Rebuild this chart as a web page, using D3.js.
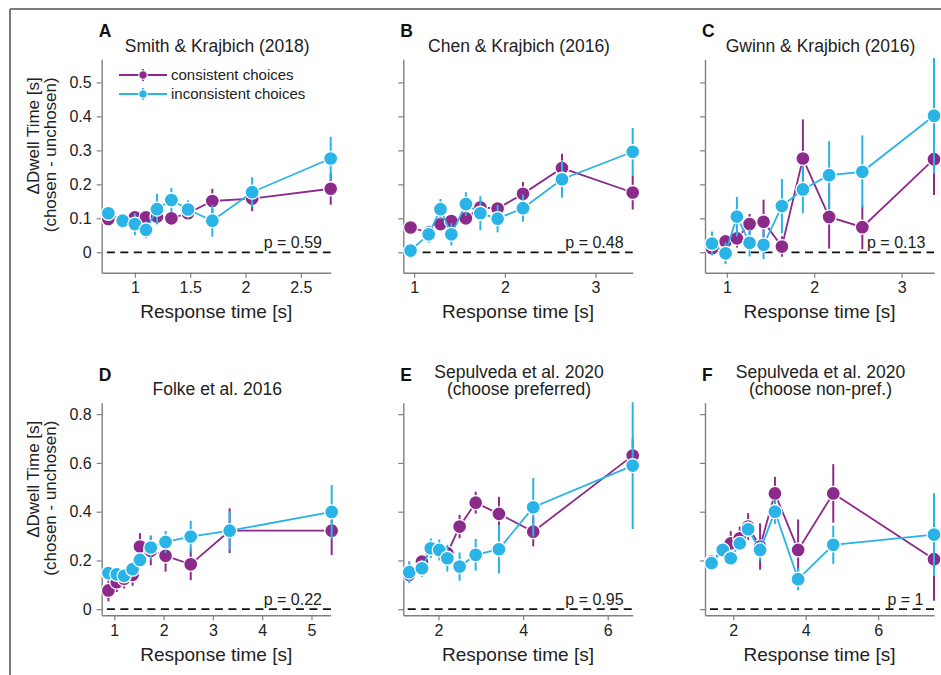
<!DOCTYPE html>
<html>
<head>
<meta charset="utf-8">
<script src="https://cdn.jsdelivr.net/npm/d3@7"></script>
<style>
  html, body { margin: 0; padding: 0; background: #fff; }
  svg { display: block; font-family: "Liberation Sans", Arial, Helvetica, sans-serif; }
</style>
</head>
<body>
<svg id="chart" width="941" height="675"></svg>
<script>
// Binned response times [s] and mean dwell-time advantage (chosen - unchosen) [s] with SEM
const rtA = [0.76, 0.89, 1.00, 1.10, 1.20, 1.33, 1.48, 1.70, 2.06, 2.77];
const consA = [0.098, 0.095, 0.103, 0.103, 0.105, 0.100, 0.115, 0.151, 0.158, 0.187];
const consErrA = [0.012, 0.012, 0.015, 0.015, 0.015, 0.016, 0.015, 0.036, 0.037, 0.047];
const inconsA = [0.115, 0.093, 0.083, 0.066, 0.127, 0.154, 0.126, 0.093, 0.177, 0.276];
const inconsErrA = [0.020, 0.020, 0.032, 0.025, 0.045, 0.035, 0.027, 0.047, 0.044, 0.064];

const rtB = [0.96, 1.16, 1.29, 1.41, 1.57, 1.73, 1.92, 2.20, 2.63, 3.41];
const consB = [0.073, 0.058, 0.083, 0.092, 0.100, 0.132, 0.129, 0.172, 0.248, 0.176];
const consErrB = [0.015, 0.015, 0.018, 0.018, 0.020, 0.022, 0.022, 0.035, 0.042, 0.050];
const inconsB = [0.005, 0.053, 0.127, 0.053, 0.142, 0.115, 0.099, 0.130, 0.215, 0.296];
const inconsErrB = [0.020, 0.025, 0.030, 0.033, 0.035, 0.050, 0.040, 0.040, 0.054, 0.070];

const rtC = [0.83, 0.985, 1.115, 1.26, 1.42, 1.63, 1.87, 2.17, 2.55, 3.37];
const consC = [0.012, 0.032, 0.041, 0.083, 0.090, 0.017, 0.276, 0.104, 0.074, 0.274];
const consErrC = [0.015, 0.020, 0.027, 0.030, 0.065, 0.030, 0.115, 0.093, 0.065, 0.105];
const inconsC = [0.026, -0.003, 0.105, 0.028, 0.022, 0.136, 0.185, 0.227, 0.237, 0.402];
const inconsErrC = [0.035, 0.032, 0.058, 0.040, 0.042, 0.080, 0.070, 0.100, 0.107, 0.170];

const rtD = [0.88, 1.05, 1.20, 1.37, 1.52, 1.74, 2.04, 2.55, 3.34, 5.41];
const consD = [0.077, 0.111, 0.125, 0.141, 0.257, 0.240, 0.219, 0.184, 0.322, 0.322];
const consErrD = [0.045, 0.040, 0.040, 0.045, 0.055, 0.060, 0.065, 0.065, 0.092, 0.100];
const inconsD = [0.148, 0.143, 0.137, 0.164, 0.202, 0.253, 0.276, 0.298, 0.322, 0.399];
const inconsErrD = [0.020, 0.020, 0.020, 0.025, 0.030, 0.050, 0.045, 0.065, 0.080, 0.110];

const rtE = [1.31, 1.61, 1.82, 2.02, 2.21, 2.50, 2.88, 3.43, 4.24, 6.59];
const consE = [0.141, 0.195, 0.250, 0.240, 0.230, 0.339, 0.437, 0.391, 0.318, 0.630];
const consErrE = [0.020, 0.025, 0.030, 0.030, 0.030, 0.048, 0.045, 0.070, 0.060, 0.070];
const inconsE = [0.152, 0.168, 0.250, 0.243, 0.209, 0.175, 0.223, 0.246, 0.418, 0.589];
const inconsErrE = [0.045, 0.035, 0.040, 0.043, 0.055, 0.058, 0.065, 0.100, 0.120, 0.260];

const rtF = [1.40, 1.71, 1.93, 2.18, 2.41, 2.74, 3.15, 3.79, 4.76, 7.54];
const consF = [0.195, 0.246, 0.270, 0.291, 0.339, 0.257, 0.475, 0.243, 0.475, 0.205];
const consErrF = [0.030, 0.030, 0.050, 0.048, 0.055, 0.095, 0.068, 0.125, 0.120, 0.170];
const inconsF = [0.189, 0.243, 0.209, 0.270, 0.328, 0.243, 0.400, 0.123, 0.264, 0.306];
const inconsErrF = [0.025, 0.025, 0.025, 0.030, 0.035, 0.045, 0.050, 0.045, 0.078, 0.170];

const pValues = ["0.59", "0.48", "0.13", "0.22", "0.95", "1"];
const panelLetters = ["A", "B", "C", "D", "E", "F"];
const panelTitles = [
  ["Smith & Krajbich (2018)"],
  ["Chen & Krajbich (2016)"],
  ["Gwinn & Krajbich (2016)"],
  ["Folke et al. 2016"],
  ["Sepulveda et al. 2020", "(choose preferred)"],
  ["Sepulveda et al. 2020", "(choose non-pref.)"]
];
const xTicksA = [1, 1.5, 2, 2.5];
const xTicksB = [1, 2, 3];
const xTicksC = [1, 2, 3];
const xTicksD = [1, 2, 3, 4, 5];
const xTicksE = [2, 4, 6];
const xTicksF = [2, 4, 6];
const yTicksTop = [0, 0.1, 0.2, 0.3, 0.4, 0.5];
const yTicksBottom = [0, 0.2, 0.4, 0.6, 0.8];
const seriesNames = ["consistent choices", "inconsistent choices"];

const COL_CONS = "#8c2a8c";
const COL_INCONS = "#29b3e6";
const AXIS_COL = "#808080";
const TEXT_COL = "#222";

// Panel geometry
const colLeft = [101.7, 403.3, 705];
const colRight = [330.7, 632.7, 934];
const rowTop = [59.3, 402.7];
const rowBottom = [272.7, 615.3];
const yDomains = [[-0.06, 0.568], [-0.025, 0.847]];
const xDomains = [[0.7, 2.77], [0.88, 3.41], [0.75, 3.37], [0.744, 5.39], [1.17, 6.59], [1.22, 7.54]];

const panels = [
  { rt: rtA, cons: consA, consErr: consErrA, incons: inconsA, inconsErr: inconsErrA, xt: xTicksA },
  { rt: rtB, cons: consB, consErr: consErrB, incons: inconsB, inconsErr: inconsErrB, xt: xTicksB },
  { rt: rtC, cons: consC, consErr: consErrC, incons: inconsC, inconsErr: inconsErrC, xt: xTicksC },
  { rt: rtD, cons: consD, consErr: consErrD, incons: inconsD, inconsErr: inconsErrD, xt: xTicksD },
  { rt: rtE, cons: consE, consErr: consErrE, incons: inconsE, inconsErr: inconsErrE, xt: xTicksE },
  { rt: rtF, cons: consF, consErr: consErrF, incons: inconsF, inconsErr: inconsErrF, xt: xTicksF }
];

const svg = d3.select("#chart");

// outer frame (top and left rules)
svg.append("line").attr("x1", 10).attr("y1", 9).attr("x2", 941).attr("y2", 9)
  .attr("stroke", "#7a7a7a").attr("stroke-width", 2);
svg.append("line").attr("x1", 10).attr("y1", 9).attr("x2", 10).attr("y2", 675)
  .attr("stroke", "#7a7a7a").attr("stroke-width", 2);

const fmtTick = d => (d === 0 ? "0" : String(d));

panels.forEach((p, i) => {
  const col = i % 3, row = Math.floor(i / 3);
  const L = colLeft[col], R = colRight[col], T = rowTop[row], B = rowBottom[row];
  const x = d3.scaleLinear().domain(xDomains[i]).range([L, R]);
  const y = d3.scaleLinear().domain(yDomains[row]).range([B, T]);
  const g = svg.append("g");

  // axes
  const xAxis = d3.axisBottom(x).tickValues(p.xt).tickFormat(fmtTick).tickSize(5).tickSizeOuter(0).tickPadding(4);
  const yAxis = d3.axisLeft(y).tickValues(row === 0 ? yTicksTop : yTicksBottom)
    .tickFormat(col === 0 ? fmtTick : "").tickSize(5).tickSizeOuter(0).tickPadding(5);
  const gx = g.append("g").attr("transform", `translate(0,${B})`).call(xAxis);
  const gy = g.append("g").attr("transform", `translate(${L},0)`).call(yAxis);
  [gx, gy].forEach(a => {
    a.select(".domain").attr("stroke", AXIS_COL).attr("stroke-width", 1.4);
    a.selectAll(".tick line").attr("stroke", AXIS_COL).attr("stroke-width", 1.2);
    a.selectAll(".tick text").attr("fill", TEXT_COL).style("font-size", "16px")
      .style("font-family", "'Liberation Sans', Arial, sans-serif");
  });

  // x axis label
  g.append("text").attr("x", (L + R) / 2).attr("y", B + 45.5).attr("text-anchor", "middle")
    .attr("fill", TEXT_COL).style("font-size", "19px").text("Response time [s]");

  // y axis label (left column only)
  if (col === 0) {
    const top = T + 18;
    g.append("text").attr("transform", `translate(39,${top}) rotate(-90)`).attr("text-anchor", "end")
      .attr("fill", TEXT_COL).style("font-size", "17px").text("\u0394Dwell Time [s]");
    g.append("text").attr("transform", `translate(56,${top}) rotate(-90)`).attr("text-anchor", "end")
      .attr("fill", TEXT_COL).style("font-size", "17px").text("(chosen - unchosen)");
  }

  // panel letter and title (multi-line titles share one text element)
  const letterY = row === 0 ? 36.5 : 381;
  g.append("text").attr("x", L - 3).attr("y", letterY).attr("fill", "#111")
    .style("font-size", "17.5px").style("font-weight", "bold").text(panelLetters[i]);
  const titles = panelTitles[i];
  const titleY = row === 0 ? 51.5 : (titles.length === 1 ? 395 : 378.3);
  const cx = (L + R) / 2 + 1;
  const title = g.append("text").attr("x", cx).attr("y", titleY).attr("text-anchor", "middle")
    .attr("fill", TEXT_COL).style("font-size", "17.5px");
  titles.forEach((t, k) => {
    title.append("tspan").attr("x", cx).attr("dy", k === 0 ? 0 : 16.7).text(t);
  });

  // zero reference line
  g.append("line").attr("x1", x(d3.min(p.rt)) - 1.5).attr("x2", x(d3.max(p.rt)))
    .attr("y1", y(0)).attr("y2", y(0))
    .attr("stroke", "#111").attr("stroke-width", 1.8).attr("stroke-dasharray", "8,5.5");

  // p-value
  const pText = g.append("text").attr("y", y(0) - 4.5).attr("fill", TEXT_COL)
    .style("font-size", "16px").text("p = " + pValues[i]);
  if (pValues[i].length > 1) pText.attr("x", L + 162).attr("text-anchor", "start");
  else pText.attr("x", R - 10.5).attr("text-anchor", "end");

  // series: consistent first, inconsistent drawn on top
  const series = [
    { v: p.cons, e: p.consErr, c: COL_CONS },
    { v: p.incons, e: p.inconsErr, c: COL_INCONS }
  ];
  series.forEach(s => {
    const pts = p.rt.map((t, k) => ({ t, v: s.v[k], e: s.e[k] }));
    const sg = g.append("g");
    sg.append("path").datum(pts)
      .attr("d", d3.line().x(d => x(d.t)).y(d => y(d.v)))
      .attr("fill", "none").attr("stroke", s.c).attr("stroke-width", 1.8);
    sg.selectAll("line.err").data(pts).join("line").attr("class", "err")
      .attr("x1", d => x(d.t)).attr("x2", d => x(d.t))
      .attr("y1", d => y(d.v - d.e)).attr("y2", d => y(d.v + d.e))
      .attr("stroke", s.c).attr("stroke-width", 2);
    sg.selectAll("circle").data(pts).join("circle")
      .attr("cx", d => x(d.t)).attr("cy", d => y(d.v)).attr("r", 7)
      .attr("fill", s.c).attr("stroke", "#fff").attr("stroke-width", 1.3);
  });

  // legend (first panel)
  if (i === 0) {
    const lg = g.append("g");
    [COL_CONS, COL_INCONS].forEach((c, k) => {
      const ly = 75 + k * 19;
      lg.append("line").attr("x1", 119).attr("x2", 167).attr("y1", ly).attr("y2", ly)
        .attr("stroke", c).attr("stroke-width", 1.8);
      lg.append("line").attr("x1", 143).attr("x2", 143).attr("y1", ly - 6).attr("y2", ly + 6)
        .attr("stroke", c).attr("stroke-width", 1.8);
      lg.append("circle").attr("cx", 143).attr("cy", ly).attr("r", 4.2)
        .attr("fill", c).attr("stroke", "#fff").attr("stroke-width", 1);
      lg.append("text").attr("x", 171).attr("y", ly + 5).attr("fill", TEXT_COL)
        .style("font-size", "15px").text(seriesNames[k]);
    });
  }
});
</script>
</body>
</html>
